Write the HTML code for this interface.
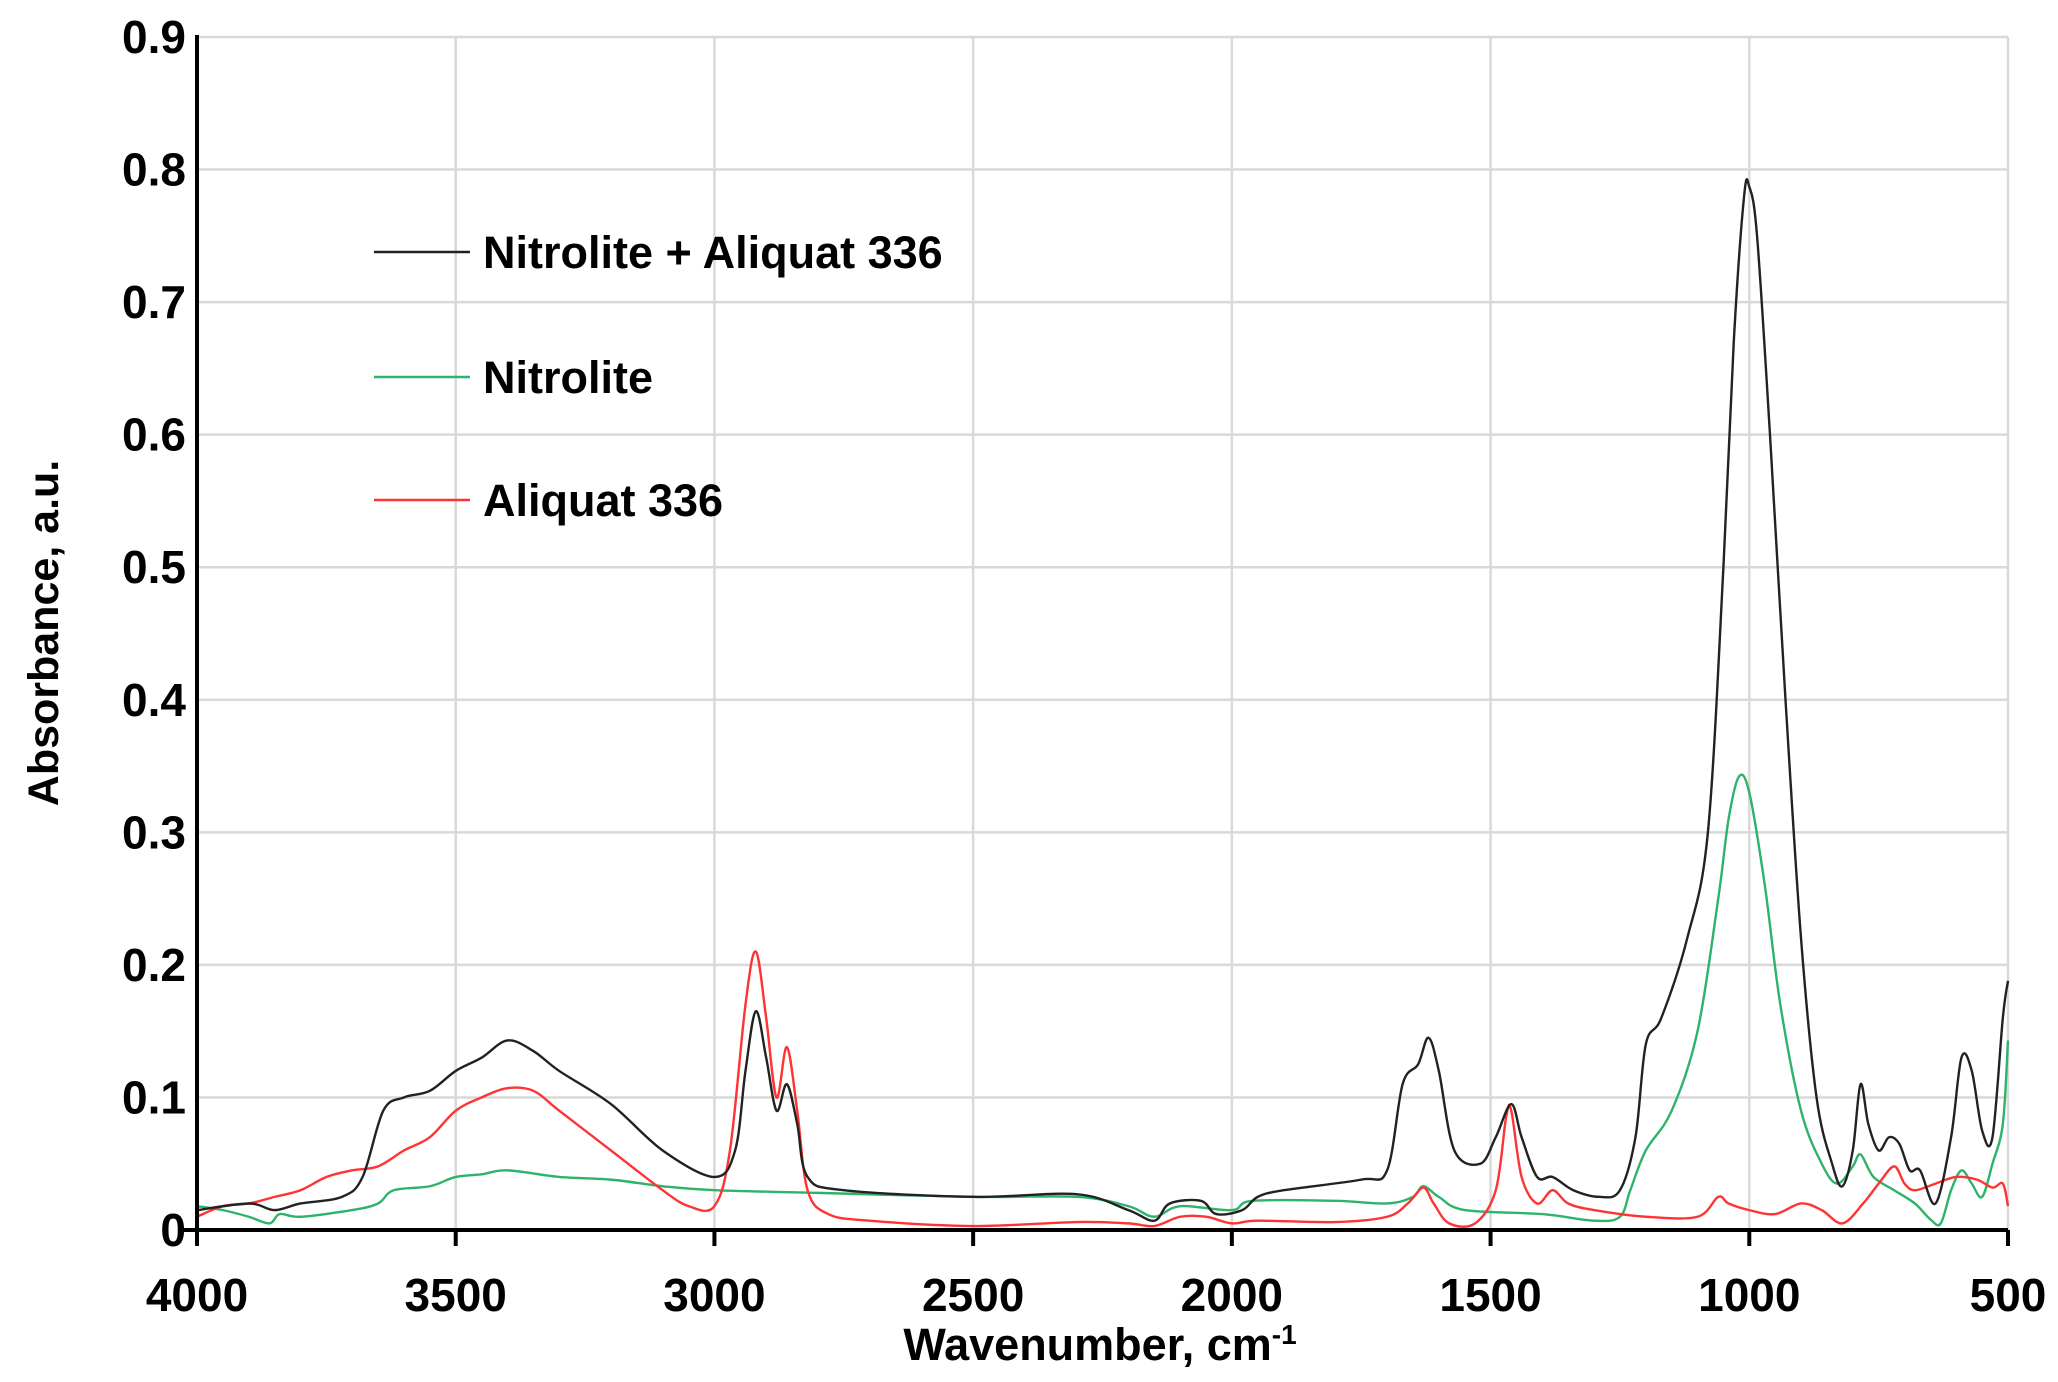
<!DOCTYPE html>
<html><head><meta charset="utf-8"><style>
body{margin:0;background:#fff}
svg{display:block;font-family:"Liberation Sans",Arial,sans-serif;font-weight:bold}
</style></head><body>
<svg id="s" width="2058" height="1382" xmlns="http://www.w3.org/2000/svg">
<g id="grid" stroke="#d9d9d9" stroke-width="2.5"></g>
<g id="series" fill="none" stroke-width="2.4" stroke-linejoin="round"></g>
<g stroke="#000" stroke-width="4">
<line x1="197" y1="35" x2="197" y2="1232"/>
<line x1="180" y1="1230" x2="2008" y2="1230"/>
</g>
<g id="ticks" stroke="#000" stroke-width="4"></g>
<g id="labels" font-size="46" fill="#000"></g>
<text x="58" y="633" font-size="43" text-anchor="middle" transform="rotate(-90 58 633)">Absorbance, a.u.</text>
<text x="1100" y="1360" font-size="45" text-anchor="middle">Wavenumber, cm<tspan font-size="28" dy="-16">-1</tspan></text>
<g font-size="45">
<line x1="374" y1="252" x2="470" y2="252" stroke="#222" stroke-width="2.4"/>
<text x="483" y="268">Nitrolite + Aliquat 336</text>
<line x1="374" y1="377" x2="470" y2="377" stroke="#2db36a" stroke-width="2.4"/>
<text x="483" y="393">Nitrolite</text>
<line x1="374" y1="500" x2="470" y2="500" stroke="#ff3333" stroke-width="2.4"/>
<text x="483" y="516">Aliquat 336</text>
</g>
</svg>
<script>
var L=197,R=2008,T=37,B=1230;
function X(w){return L+(4000-w)/3500*(R-L)}
function Y(a){return B-a/0.9*(B-T)}
var ns="http://www.w3.org/2000/svg";
function el(p,t,at,txt){var e=document.createElementNS(ns,t);for(var k in at)e.setAttribute(k,at[k]);if(txt!=null)e.textContent=txt;document.getElementById(p).appendChild(e);}
for(var i=1;i<=9;i++){var y=Y(i/10);el("grid","line",{x1:L,y1:y,x2:R,y2:y});}
for(var w=3500;w>=500;w-=500){var x=X(w);el("grid","line",{x1:x,y1:T,x2:x,y2:B});}
for(var w=4000;w>=500;w-=500){var x=X(w);el("ticks","line",{x1:x,y1:B,x2:x,y2:B+16});el("labels","text",{x:x,y:1311,"text-anchor":"middle"},String(w));}
for(var i=0;i<=9;i++){el("labels","text",{x:186,y:Y(i/10)+16,"text-anchor":"end"},i==0?"0":(i/10).toFixed(1));}
function path(d,c){var p=d.map(function(q){return [X(q[0]),Y(q[1])]});var s="M"+p[0][0]+","+p[0][1];
for(var i=0;i<p.length-1;i++){var p0=p[Math.max(0,i-1)],p1=p[i],p2=p[i+1],p3=p[Math.min(p.length-1,i+2)];
s+=" C"+(p1[0]+(p2[0]-p0[0])/6)+","+(p1[1]+(p2[1]-p0[1])/6)+" "+(p2[0]-(p3[0]-p1[0])/6)+","+(p2[1]-(p3[1]-p1[1])/6)+" "+p2[0]+","+p2[1];}
el("series","path",{d:s,stroke:c});}
function P(a){var r=[];for(var i=0;i<a.length;i+=2)r.push([a[i],a[i+1]]);return r;}
var red=P([4000,0.01,3950,0.018,3900,0.02,3850,0.025,3800,0.03,3750,0.04,3700,0.045,3650,0.048,3600,0.06,3550,0.07,3500,0.09,3450,0.1,3400,0.107,3350,0.105,3300,0.09,3200,0.06,3100,0.03,3050,0.018,3000,0.018,2970,0.06,2940,0.17,2920,0.21,2900,0.16,2880,0.1,2860,0.138,2840,0.09,2820,0.03,2780,0.012,2700,0.007,2500,0.003,2300,0.006,2200,0.005,2150,0.003,2100,0.01,2050,0.01,2000,0.005,1950,0.007,1800,0.006,1700,0.01,1660,0.02,1630,0.032,1610,0.02,1580,0.005,1530,0.005,1490,0.03,1470,0.085,1460,0.09,1440,0.04,1410,0.02,1380,0.03,1350,0.02,1300,0.015,1200,0.01,1100,0.01,1060,0.025,1040,0.02,1000,0.015,950,0.012,900,0.02,860,0.015,820,0.005,780,0.02,750,0.035,720,0.048,700,0.035,680,0.03,640,0.035,600,0.04,560,0.038,530,0.032,510,0.035,500,0.018]);
var green=P([4000,0.018,3950,0.015,3900,0.01,3860,0.005,3840,0.012,3800,0.01,3700,0.015,3650,0.02,3620,0.03,3550,0.033,3500,0.04,3450,0.042,3400,0.045,3300,0.04,3200,0.038,3100,0.033,3000,0.03,2800,0.028,2500,0.025,2300,0.025,2200,0.018,2150,0.01,2100,0.018,2000,0.015,1960,0.022,1800,0.022,1700,0.02,1650,0.025,1630,0.033,1600,0.025,1550,0.015,1400,0.012,1300,0.007,1250,0.01,1230,0.03,1200,0.06,1150,0.09,1100,0.15,1060,0.25,1040,0.31,1020,0.342,1000,0.33,970,0.26,940,0.17,900,0.09,860,0.05,830,0.035,800,0.048,785,0.057,760,0.04,720,0.03,680,0.02,650,0.008,630,0.005,610,0.03,590,0.045,570,0.035,550,0.025,530,0.05,510,0.08,500,0.143]);
var black=P([4000,0.015,3900,0.02,3850,0.015,3800,0.02,3720,0.025,3680,0.04,3640,0.09,3600,0.1,3550,0.105,3500,0.12,3450,0.13,3400,0.143,3350,0.135,3300,0.12,3200,0.095,3100,0.06,3000,0.04,2960,0.06,2940,0.12,2920,0.165,2900,0.13,2880,0.09,2860,0.11,2840,0.08,2820,0.04,2750,0.03,2500,0.025,2300,0.027,2200,0.015,2150,0.007,2120,0.02,2060,0.022,2030,0.012,1980,0.015,1950,0.025,1900,0.03,1750,0.038,1700,0.045,1670,0.11,1640,0.125,1620,0.145,1600,0.12,1570,0.06,1520,0.05,1490,0.07,1460,0.095,1440,0.07,1410,0.04,1380,0.04,1340,0.03,1290,0.025,1250,0.03,1220,0.07,1200,0.14,1170,0.16,1120,0.22,1080,0.3,1050,0.5,1030,0.67,1010,0.78,1000,0.787,985,0.75,960,0.6,930,0.4,900,0.22,870,0.1,840,0.05,820,0.033,800,0.06,785,0.11,770,0.08,750,0.06,730,0.07,710,0.065,690,0.045,670,0.045,640,0.02,610,0.07,590,0.13,570,0.12,550,0.075,530,0.07,510,0.16,500,0.188]);
path(green,"#2db36a");path(red,"#ff3333");path(black,"#222");
</script>
</body></html>
